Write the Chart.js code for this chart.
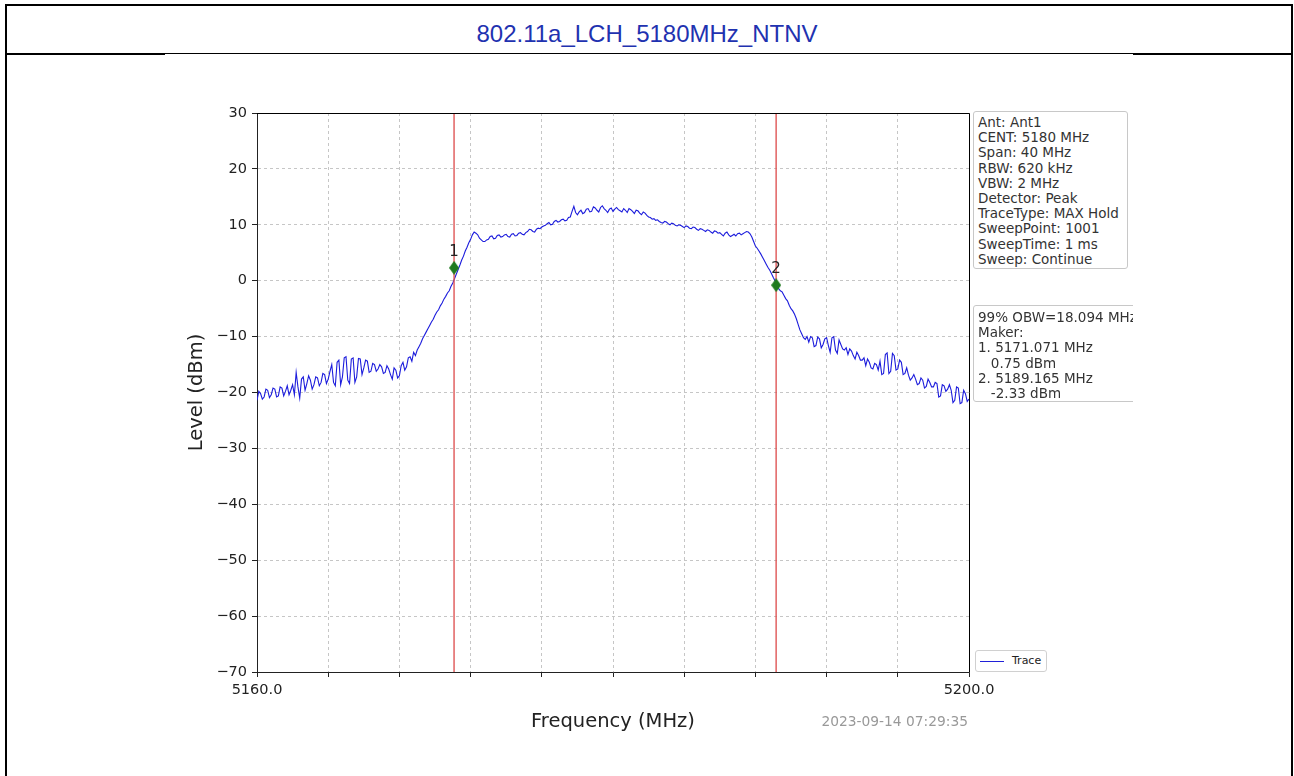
<!DOCTYPE html>
<html>
<head>
<meta charset="utf-8">
<script src="https://cdn.jsdelivr.net/npm/chart.js@4.4.0/dist/chart.umd.min.js"></script>
<style>
html,body{margin:0;padding:0;background:#fff;width:1294px;height:776px;overflow:hidden;position:relative;font-family:'DejaVu Sans',sans-serif;}
#frame{position:absolute;left:5px;top:4px;width:1284px;height:800px;border:2px solid #000;border-bottom:none;}
.sep{position:absolute;background:#000;}
#title{position:absolute;left:0;width:1294px;top:19px;text-align:center;font-family:'Liberation Sans',Arial,sans-serif;font-size:24px;line-height:30px;color:#1f32b0;}
#chart{position:absolute;left:0;top:0;}
.box{position:absolute;background:#fff;border:1px solid #c8c8c8;border-radius:3px;font-family:'DejaVu Sans',sans-serif;font-size:13.5px;line-height:15.2px;color:#333;white-space:pre;box-sizing:border-box;}
#clip2{position:absolute;left:973px;top:305px;width:160px;height:98px;overflow:hidden;}
#legend{position:absolute;left:975px;top:650px;width:72px;height:22px;border:1px solid #d0d0d0;border-radius:3px;box-sizing:border-box;background:#fff;font-family:'DejaVu Sans',sans-serif;font-size:11px;color:#222;}
#legend .ln{position:absolute;left:4px;top:10px;width:24px;height:0;border-top:1.5px solid #2020d8;}
#legend .tx{position:absolute;left:36px;top:3px;}
#stamp{position:absolute;right:326px;top:713px;font-family:'DejaVu Sans',sans-serif;font-size:13.8px;color:#999;}
</style>
</head>
<body>
<div id="frame"></div>
<div class="sep" style="left:5px;top:53px;width:160px;height:2px;"></div>
<div class="sep" style="left:165px;top:53px;width:968px;height:1px;"></div>
<div class="sep" style="left:1133px;top:53px;width:160px;height:2px;"></div>
<div id="title">802.11a_LCH_5180MHz_NTNV</div>
<canvas id="chart" width="1294" height="776"></canvas>
<div class="box" id="info1" style="left:973px;top:111px;width:155px;height:158px;padding:3px 0 0 4px;"></div>
<div id="clip2"><div class="box" id="info2" style="left:0;top:0;width:200px;height:97px;padding:4px 0 0 4px;"></div></div>
<div id="legend"><div class="ln"></div><div class="tx">Trace</div></div>
<div id="stamp">2023-09-14 07:29:35</div>
<script>
// ---- data ----
const START_MHZ = 5160;
const STEP_MHZ = 0.1;
const traceLevels = [
  -21.4, -19.8, -20.2, -21.2, -20.8, -19.4, -19.6, -20.9, -20.4, -19.2,
  -19.4, -20.8, -20.6, -19.0, -19.2, -20.6, -19.8, -18.8, -20.4, -19.6,
  -18.6, -20.4, -16.4, -19.0, -21.0, -17.6, -17.2, -19.6, -18.4, -17.0,
  -17.8, -19.4, -18.6, -17.2, -17.4, -18.8, -18.2, -16.6, -16.8, -18.4,
  -17.6, -16.2, -15.0, -18.2, -18.8, -14.6, -14.2, -18.6, -17.2, -13.8,
  -13.6, -17.8, -18.4, -14.0, -13.8, -18.2, -17.2, -13.9, -14.0, -16.8,
  -15.6, -14.2, -14.4, -16.4, -16.2, -14.8, -15.0, -16.2, -15.8, -15.0,
  -15.4, -16.6, -16.4, -15.2, -15.8, -16.8, -17.6, -15.6, -16.0, -17.4,
  -17.0, -15.2, -14.6, -16.0, -15.4, -13.8, -13.6, -14.4, -12.8, -13.4,
  -12.4, -11.8, -11.2, -10.4, -9.8, -9.2, -8.6, -8.0, -7.4, -6.9,
  -6.2, -5.6, -5.2, -4.5, -4.0, -3.3, -2.8, -2.2, -1.8, -1.0,
  -0.4, 0.4, 1.2, 2.0, 2.8, 3.7, 4.4, 5.3, 6.0, 6.8,
  7.4, 8.2, 8.7, 8.5, 8.2, 7.6, 7.3, 7.0, 7.0, 7.3,
  7.4, 7.9, 8.0, 7.5, 7.6, 8.1, 8.2, 7.8, 7.9, 8.2,
  8.3, 7.9, 7.8, 8.3, 8.4, 8.0, 8.1, 8.5, 8.6, 8.3,
  8.2, 8.6, 8.8, 9.2, 9.1, 8.8, 8.7, 9.2, 9.4, 9.3,
  9.6, 9.8, 9.9, 10.2, 10.4, 10.0, 10.1, 10.6, 10.8, 10.5,
  10.6, 10.9, 11.0, 10.7, 10.8, 11.3, 11.4, 12.4, 13.3, 12.2,
  11.8, 12.3, 12.6, 12.0, 12.2, 12.8, 12.9, 12.3, 12.4, 13.2,
  13.0, 12.6, 12.3, 13.1, 13.4, 12.9, 12.6, 12.2, 12.8, 13.0,
  12.4, 12.8, 13.1, 12.7, 12.5, 12.3, 12.9, 12.6, 12.2, 12.9,
  12.7, 12.4, 12.0, 12.6, 12.5, 12.1, 11.8, 12.3, 12.1, 11.7,
  11.4, 11.3, 11.0, 11.1, 10.8, 10.9, 10.6, 10.4, 10.3, 10.6,
  10.5, 10.2, 10.0, 10.3, 10.2, 9.9, 9.8, 10.0, 9.9, 9.7,
  9.5, 9.8, 9.7, 9.4, 9.3, 9.6, 9.5, 9.2, 9.0, 9.3,
  9.2, 9.0, 8.8, 9.1, 9.0, 8.7, 8.5, 8.9, 8.8, 8.5,
  8.6, 8.3, 8.0, 8.5, 8.7, 8.2, 7.9, 8.1, 8.3, 8.0,
  8.4, 8.5, 8.2, 8.4, 8.6, 8.8, 8.7, 8.4, 7.8, 7.0,
  6.2, 5.8, 5.3, 4.8, 4.2, 3.6, 3.0, 2.4, 1.9, 1.3,
  0.6, 0.0, -0.6, -1.4, -1.8, -2.0, -2.6, -3.2, -3.6, -4.4,
  -5.0, -5.4, -6.0, -6.8, -7.8, -8.8, -9.5, -10.2, -10.5, -10.0,
  -11.0, -10.0, -10.2, -11.8, -11.6, -10.1, -10.4, -12.0, -11.4, -10.4,
  -10.2, -11.6, -12.8, -10.2, -10.0, -12.4, -13.0, -10.6, -11.4, -12.2,
  -12.4, -12.0, -13.2, -12.2, -12.6, -13.4, -14.0, -12.8, -13.4, -14.2,
  -14.2, -13.8, -15.2, -14.0, -14.6, -15.6, -15.8, -14.8, -15.0, -16.0,
  -14.4, -16.8, -16.6, -13.2, -12.9, -16.6, -16.2, -13.0, -13.4, -16.0,
  -15.8, -14.2, -14.6, -16.8, -16.6, -15.6, -16.9, -17.8, -17.4, -16.8,
  -17.6, -18.6, -18.4, -17.4, -17.8, -19.2, -18.9, -17.6, -18.2, -19.0,
  -19.0, -18.2, -18.4, -20.8, -20.6, -18.6, -18.8, -19.8, -19.4, -18.6,
  -19.6, -21.8, -21.4, -19.0, -19.2, -22.0, -21.8, -19.6, -20.2, -21.6,
  -21.2
];
const markerNames = ['1', '2'];
const markerFreqs = [5171.071, 5189.165];
const markerLevels = [2.3, -0.8];
const xMin = 5160, xMax = 5200, xStep = 4;
const yMin = -70, yMax = 30, yStep = 10;
const xTickLabels = ['5160.0', '5200.0'];
const infoLines = ['Ant: Ant1','CENT: 5180 MHz','Span: 40 MHz','RBW: 620 kHz','VBW: 2 MHz','Detector: Peak','TraceType: MAX Hold','SweepPoint: 1001','SweepTime: 1 ms','Sweep: Continue'];
const obwLines = ['99% OBW=18.094 MHz','Maker:','1. 5171.071 MHz','   0.75 dBm','2. 5189.165 MHz','   -2.33 dBm'];

document.getElementById('info1').textContent = infoLines.join('\n');
document.getElementById('info2').textContent = obwLines.join('\n');

const tracePoints = traceLevels.map((v, i) => ({x: +(START_MHZ + i * STEP_MHZ).toFixed(3), y: v}));
const markerPoints = markerFreqs.map((f, i) => ({x: f, y: markerLevels[i]}));

function thinDiamond() {
  const c = document.createElement('canvas');
  c.width = 10; c.height = 14;
  const g = c.getContext('2d');
  g.fillStyle = '#1f7a1f';
  g.beginPath(); g.moveTo(5, 0); g.lineTo(10, 7); g.lineTo(5, 14); g.lineTo(0, 7); g.closePath(); g.fill();
  return c;
}

const FONT = "'DejaVu Sans', sans-serif";

const framePlugin = {
  id: 'frame',
  afterDatasetsDraw(chart) {
    const {ctx, chartArea: a} = chart;
    ctx.save();
    ctx.strokeStyle = '#000'; ctx.lineWidth = 1;
    ctx.beginPath();
    ctx.moveTo(a.left, Math.round(a.top) + 0.5);
    ctx.lineTo(Math.round(a.right) + 0.5, Math.round(a.top) + 0.5);
    ctx.lineTo(Math.round(a.right) + 0.5, a.bottom);
    ctx.stroke();
    // marker numbers
    const xs = chart.scales.x, ys = chart.scales.y;
    ctx.font = '15px ' + FONT; ctx.fillStyle = '#222';
    ctx.textAlign = 'center'; ctx.textBaseline = 'middle';
    markerFreqs.forEach((f, i) => {
      ctx.fillText(markerNames[i], xs.getPixelForValue(f), ys.getPixelForValue(markerLevels[i]) - 16);
    });
    ctx.restore();
  }
};

const datasets = [
  {label: 'Markers', data: markerPoints, showLine: false, pointStyle: thinDiamond(), pointRadius: 6, order: 0},
];
markerFreqs.forEach((f, i) => {
  datasets.push({label: 'M' + markerNames[i], data: [{x: f, y: yMin}, {x: f, y: yMax}], borderColor: 'rgba(222,80,80,0.9)', borderWidth: 1.5, pointRadius: 0, order: 1});
});
datasets.push({label: 'Trace', data: tracePoints, borderColor: '#1c1cdc', borderWidth: 1.1, pointRadius: 0, tension: 0, order: 2});

new Chart(document.getElementById('chart'), {
  type: 'line',
  data: {datasets},
  options: {
    responsive: false,
    animation: false,
    devicePixelRatio: 1,
    layout: {padding: {left: 180, top: 113, right: 325, bottom: 34}},
    plugins: {legend: {display: false}, tooltip: {enabled: false}},
    scales: {
      x: {
        type: 'linear', min: xMin, max: xMax,
        afterFit(s) { s.height = 70; },
        ticks: {
          stepSize: xStep, autoSkip: false, maxRotation: 0, padding: 5,
          font: {family: FONT, size: 14.5}, color: '#222',
          callback: (v) => v === xMin ? xTickLabels[0] : (v === xMax ? xTickLabels[1] : '')
        },
        grid: {color: '#b8b8b8', lineWidth: 0.8, tickColor: '#222', tickLength: 5, tickBorderDash: [], tickWidth: 1},
        border: {display: true, color: '#222', width: 1, dash: [3, 3]},
        title: {display: true, text: 'Frequency (MHz)', font: {family: FONT, size: 19.5}, color: '#222', padding: {top: 0, bottom: 8}}
      },
      y: {
        min: yMin, max: yMax,
        afterFit(s) { s.width = 77; },
        ticks: {
          stepSize: yStep, padding: 5,
          font: {family: FONT, size: 14.5}, color: '#222',
          callback: (v) => v < 0 ? '\u2212' + Math.abs(v) : String(v)
        },
        grid: {color: '#b8b8b8', lineWidth: 0.8, tickColor: '#222', tickLength: 5, tickBorderDash: [], tickWidth: 1},
        border: {display: true, color: '#222', width: 1, dash: [3, 3]},
        title: {display: true, text: 'Level (dBm)', font: {family: FONT, size: 19.5}, color: '#222', padding: {top: 5, bottom: 0}}
      }
    }
  },
  plugins: [framePlugin]
});
</script>
</body>
</html>
